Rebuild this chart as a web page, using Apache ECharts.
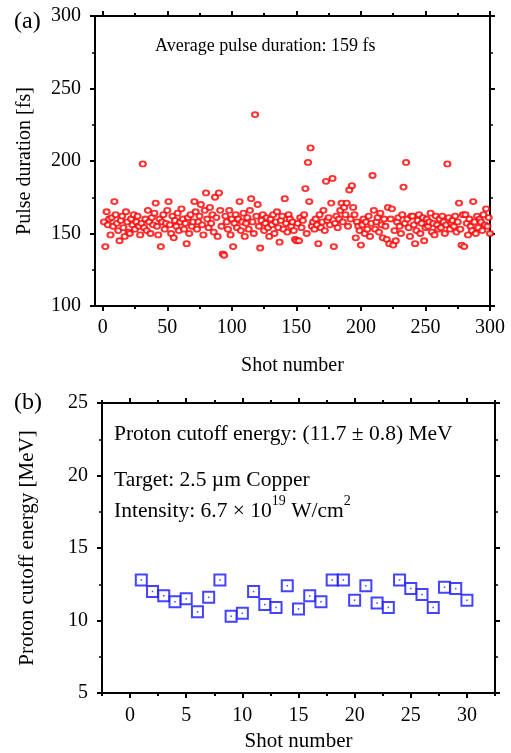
<!DOCTYPE html>
<html style="height: 100%">
<head>
    <meta charset="utf-8">
    <script src="https://cdn.jsdelivr.net/npm/echarts@6/dist/echarts.min.js"></script>
</head>
<body style="margin:0; background-color:#ffffff;">

    <div id="container" style="width:511px;height:753px;"></div>

    <script type="text/javascript">
        // (a) pulse duration per shot, shots 1..300
        var pulseDuration = [
            158, 141, 165, 156, 160, 149, 161, 155, 172, 163,
            157, 152, 145, 159, 162, 154, 148, 165, 158, 151,
            150, 160, 156, 163, 153, 158, 162, 155, 149, 157,
            198, 154, 160, 152, 166, 158, 150, 161, 156, 164,
            171, 155, 149, 160, 141, 158, 163, 153, 157, 166,
            172, 156, 150, 162, 147, 159, 155, 164, 152, 158,
            167, 160, 153, 157, 143, 161, 150, 163, 155, 158,
            172, 165, 153, 158, 162, 170, 156, 149, 166, 178,
            160, 154, 168, 157, 163, 151, 175, 161, 148, 178,
            166, 155, 136, 135, 162, 158, 153, 166, 149, 160,
            141, 157, 163, 154, 160, 172, 152, 158, 164, 148,
            157, 161, 153, 166, 174, 158, 150, 232, 162, 170,
            155, 140, 159, 163, 152, 157, 161, 154, 148, 160,
            156, 163, 150, 158, 165, 154, 144, 159, 162, 153,
            174, 157, 151, 163, 160, 155, 158, 152, 146, 145,
            157, 145, 161, 154, 159, 163, 181, 150, 199, 172,
            209, 155, 158, 153, 160, 156, 143, 163, 154, 158,
            166, 152, 186, 159, 161, 156, 171, 188, 141, 157,
            162, 154, 160, 166, 171, 158, 168, 163, 171, 155,
            180, 160, 183, 168, 163, 147, 158, 155, 152, 142,
            156, 160, 150, 158, 153, 162, 148, 157, 190, 166,
            153, 158, 161, 151, 164, 156, 147, 160, 155, 146,
            168, 143, 160, 167, 142, 152, 145, 158, 161, 155,
            150, 163, 182, 157, 199, 160, 154, 148, 162, 162,
            156, 143, 152, 159, 163, 150, 157, 161, 145, 154,
            160, 155, 158, 164, 151, 157, 149, 162, 156, 153,
            160, 154, 162, 158, 150, 156, 198, 161, 153, 157,
            159, 155, 162, 151, 158, 171, 153, 142, 163, 141,
            163, 157, 149, 160, 155, 152, 172, 158, 150, 162,
            154, 160, 158, 152, 163, 156, 167, 155, 161, 150
        ];
        // (b) proton cutoff energy per shot, shots 1..30
        var protonEnergy = [
            12.8, 12.0, 11.7, 11.3, 11.5, 10.6, 11.6, 12.8, 10.3, 10.5,
            12.0, 11.1, 10.9, 12.4, 10.8, 11.7, 11.3, 12.8, 12.8, 11.4,
            12.4, 11.2, 10.9, 12.8, 12.2, 11.8, 10.9, 12.3, 12.2, 11.4
        ];

        var shotTicksA = [0, 50, 100, 150, 200, 250, 300];
        var shotMinorA = [25, 75, 125, 175, 225, 275];
        var shotTicksB = [0, 5, 10, 15, 20, 25, 30];
        var shotMinorB = [-2.5, 2.5, 7.5, 12.5, 17.5, 22.5, 27.5, 32.5];

        var font = 'Liberation Serif';
        var black = '#000000';

        function xAx(grid, pos, min, max, ticks, len, name, gap, nameSize, margin) {
            return {
                type: 'value', gridIndex: grid, position: pos, min: min, max: max,
                name: name || '', nameLocation: 'middle', nameGap: gap || 40,
                nameTextStyle: { fontFamily: font, fontSize: nameSize || 20, color: black },
                axisLine: { show: true, onZero: false, lineStyle: { color: black, width: 2 } },
                axisTick: { show: true, inside: false, length: len, customValues: ticks, lineStyle: { color: black, width: 2 } },
                axisLabel: { show: !!name, customValues: ticks, margin: margin || 12, fontFamily: font, fontSize: 20, color: black },
                splitLine: { show: false }
            };
        }

        function yAx(grid, pos, min, max, step, name, gap, nameSize) {
            return {
                type: 'value', gridIndex: grid, position: pos, min: min, max: max, interval: step,
                name: name || '', nameLocation: 'middle', nameGap: gap || 60,
                nameTextStyle: { fontFamily: font, fontSize: nameSize || 20, color: black },
                axisLine: { show: true, onZero: false, lineStyle: { color: black, width: 2 } },
                axisTick: { show: true, inside: false, length: 5, lineStyle: { color: black, width: 2 } },
                minorTick: { show: true, splitNumber: 2, length: 3, lineStyle: { color: black, width: 1.5 } },
                axisLabel: { show: !!name, margin: 14, fontFamily: font, fontSize: 20, color: black },
                splitLine: { show: false }
            };
        }

        var pulsePoints = pulseDuration.map(function (v, i) { return [i + 1, v]; });
        var protonPoints = protonEnergy.map(function (v, i) { return [i + 1, v]; });

        var dom = document.getElementById('container');
        var myChart = echarts.init(dom);

        var option = {
            backgroundColor: '#ffffff',
            animation: false,
            textStyle: { fontFamily: font },
            grid: [
                { left: 95, top: 16, width: 395, height: 290 },
                { left: 102, top: 403, width: 393, height: 290 }
            ],
            xAxis: [
                xAx(0, 'bottom', -6, 300, shotTicksA, 5, 'Shot number', 50, 20, 12),
                xAx(0, 'bottom', -6, 300, shotMinorA, 3),
                xAx(0, 'top', -6, 300, shotTicksA, 5),
                xAx(0, 'top', -6, 300, shotMinorA, 3),
                xAx(1, 'bottom', -2.5, 32.5, shotTicksB, 5, 'Shot number', 38, 21, 13),
                xAx(1, 'bottom', -2.5, 32.5, shotMinorB, 3),
                xAx(1, 'top', -2.5, 32.5, shotTicksB, 5),
                xAx(1, 'top', -2.5, 32.5, shotMinorB, 3)
            ],
            yAxis: [
                yAx(0, 'left', 100, 300, 50, 'Pulse duration [fs]', 60, 20),
                yAx(0, 'right', 100, 300, 50),
                yAx(1, 'left', 5, 25, 5, 'Proton cutoff energy [MeV]', 64, 21),
                yAx(1, 'right', 5, 25, 5)
            ],
            series: [
                {
                    type: 'scatter', xAxisIndex: 0, yAxisIndex: 0, clip: false,
                    symbol: 'emptyCircle', symbolSize: [6, 5],
                    itemStyle: { color: '#ff0000', borderColor: '#ff0000', borderWidth: 1.3 },
                    data: pulsePoints
                },
                {
                    type: 'scatter', xAxisIndex: 4, yAxisIndex: 2, clip: false,
                    symbol: 'emptyRect', symbolSize: 11,
                    itemStyle: { color: '#1515ff', borderColor: '#1515ff', borderWidth: 2 },
                    data: protonPoints
                },
                {
                    type: 'scatter', xAxisIndex: 4, yAxisIndex: 2, clip: false,
                    symbol: 'rect', symbolSize: 1.5,
                    itemStyle: { color: '#1515ff' },
                    data: protonPoints
                }
            ],
            graphic: [
                { type: 'text', left: 14, top: 10, style: { text: '(a)', font: '24px "Liberation Serif"', fill: black } },
                { type: 'text', left: 14, top: 391, style: { text: '(b)', font: '24px "Liberation Serif"', fill: black } },
                { type: 'text', left: 155, top: 37, style: { text: 'Average pulse duration: 159 fs', font: '18px "Liberation Serif"', fill: black } },
                { type: 'text', left: 114, top: 423, style: { text: 'Proton cutoff energy: (11.7 \u00b1 0.8) MeV', font: '21.5px "Liberation Serif"', fill: black } },
                { type: 'text', left: 114, top: 469, style: { text: 'Target: 2.5 \u00b5m Copper', font: '21.5px "Liberation Serif"', fill: black } },
                {
                    type: 'text', left: 114, top: 494,
                    style: {
                        text: '{n|Intensity: 6.7 \u00d7 10}{s|19}{n| W/cm}{s|2}',
                        rich: {
                            n: { fontFamily: font, fontSize: 21.5, color: black, lineHeight: 28, verticalAlign: 'bottom' },
                            s: { fontFamily: font, fontSize: 14, color: black, lineHeight: 28, verticalAlign: 'top' }
                        }
                    }
                }
            ]
        };

        myChart.setOption(option, true);
    </script>
</body>
</html>
